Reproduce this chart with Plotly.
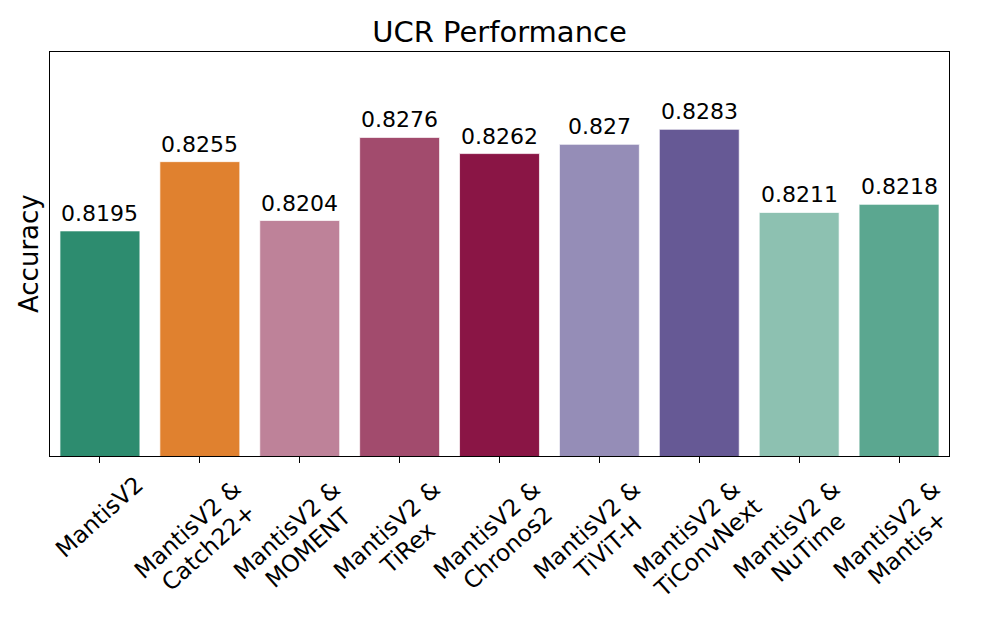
import math
import plotly.graph_objects as go

categories = ["MantisV2", "MantisV2 & \nCatch22+", "MantisV2 & \nMOMENT", "MantisV2 & \nTiRex",
              "MantisV2 & \nChronos2", "MantisV2 & \nTiViT-H", "MantisV2 & \nTiConvNext",
              "MantisV2 & \nNuTime", "MantisV2 & \nMantis+"]
accuracy = [0.8195, 0.8255, 0.8204, 0.8276, 0.8262, 0.8270, 0.8283, 0.8211, 0.8218]
value_labels = ["0.8195", "0.8255", "0.8204", "0.8276", "0.8262", "0.827", "0.8283", "0.8211", "0.8218"]
colors = ["#2D8C6F", "#E0812F", "#BE8299", "#A24B6D", "#8A1545", "#958DB7", "#665995", "#8DC1B1", "#5BA790"]

FONT = "DejaVu Sans"
TICK_FS = 23.3
ANGLE = 42.0        # degrees, text rising to the right
LINE_SP = 26.8      # px between baselines of stacked label lines
TOP_GAP = 17.0      # px from axis bottom to top of rotated label box

# approximate DejaVu Sans advance widths (em), used to centre the rotated labels like matplotlib does
CW = {"A": .684, "C": .698, "E": .632, "H": .752, "M": .863, "N": .748, "O": .787, "R": .695,
      "T": .611, "V": .684, "a": .613, "c": .550, "e": .615, "h": .634, "i": .278, "m": .974,
      "n": .634, "o": .612, "r": .411, "s": .521, "t": .392, "u": .634, "v": .592, "x": .592,
      "2": .636, "&": .780, "+": .838, "-": .361, " ": .318}

def text_w(s):
    return sum(CW.get(ch, 0.6) for ch in s) * TICK_FS

xs = list(range(len(categories)))

fig = go.Figure()
fig.add_trace(go.Bar(
    x=xs, y=accuracy, width=0.8,
    marker=dict(color=colors, line=dict(color="rgba(255,255,255,0.7)", width=1)),
    hoverinfo="skip",
))

annotations = []
for i, (v, lab) in enumerate(zip(accuracy, value_labels)):
    annotations.append(dict(
        x=i, xref="x", y=v, yref="y", yanchor="bottom", xanchor="center",
        yshift=3, text=lab, showarrow=False,
        font=dict(family=FONT, size=22, color="black"),
    ))

th = math.radians(ANGLE)
c, s = math.cos(th), math.sin(th)
F = TICK_FS
for i, lab in enumerate(categories):
    lines = lab.split("\n")
    n = len(lines)
    widths = [text_w(l) for l in lines]
    W = max(widths)
    A, D = 0.76 * F, 0.21 * F
    H = A + (n - 1) * LINE_SP + D
    hy = (W * s + H * c) / 2
    cy = TOP_GAP + hy                      # block centre below axis (px)
    for k, (line, w) in enumerate(zip(lines, widths)):
        vis = line.rstrip()
        wv = text_w(vis)
        u = -w / 2 + wv / 2                # centre of visible text along baseline
        vrel = (A + k * LINE_SP - 0.346 * F) - H / 2
        dx = u * c + vrel * s
        dy = -u * s + vrel * c             # screen-down offset
        annotations.append(dict(
            x=i, xref="x", y=0, yref="paper", xanchor="center", yanchor="middle",
            xshift=dx, yshift=-(cy + dy), text=vis, textangle=-ANGLE, showarrow=False,
            font=dict(family=FONT, size=F, color="black"),
        ))

annotations.append(dict(
    x=0, xref="paper", y=0.5, yref="paper", xanchor="right", yanchor="middle",
    xshift=-4, text="Accuracy", textangle=-90, showarrow=False,
    font=dict(family=FONT, size=26, color="black"),
))

fig.update_layout(
    width=996, height=623,
    margin=dict(l=42, r=55, t=44, b=175),
    paper_bgcolor="white", plot_bgcolor="white",
    showlegend=False,
    title=dict(text="UCR Performance", x=0.5, xref="paper", xanchor="center",
               y=1, yref="paper", yanchor="bottom", pad=dict(b=10),
               font=dict(family=FONT, size=29, color="black")),
    annotations=annotations,
    xaxis=dict(range=[-0.5, 8.5], tickvals=xs, showticklabels=False,
               ticks="outside", ticklen=6, tickwidth=1.2, tickcolor="black",
               showline=True, linecolor="black", linewidth=1.3, mirror=True,
               showgrid=False, zeroline=False),
    yaxis=dict(range=[0.80, 0.835], showticklabels=False, ticks="",
               showline=True, linecolor="black", linewidth=1.3, mirror=True,
               showgrid=False, zeroline=False),
)

fig.write_html("out.html")
